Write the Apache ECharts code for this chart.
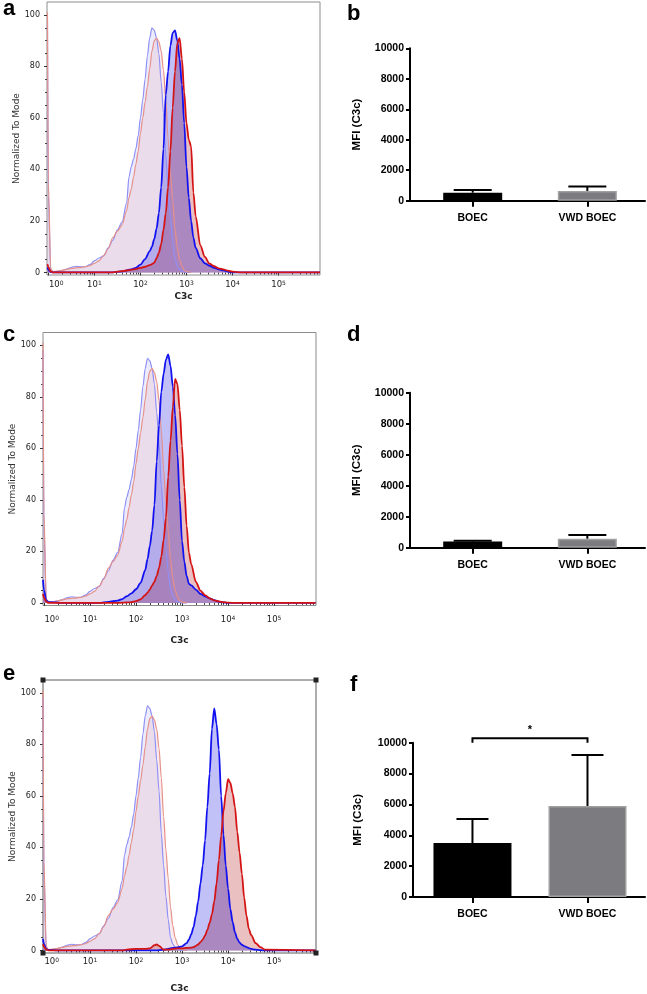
<!DOCTYPE html>
<html><head><meta charset="utf-8">
<script src="https://cdn.jsdelivr.net/npm/echarts@6.0.0/dist/echarts.min.js"></script>
<style>html,body{margin:0;padding:0;background:#fff}#c{width:647px;height:994px}</style>
</head><body><div id="c"></div>
<script>
// ---------- DATA (x = log10 of C3c fluorescence, y = % of mode) ----------
const isoX = [-0.02,0.0,0.05,0.1,0.2,0.3,0.4,0.5,0.6,0.7,0.8,0.9,1.0,1.1,1.2,1.3,1.4,1.5,1.6,1.7,1.75,1.8,1.85,1.9,1.95,2.0,2.05,2.1,2.15,2.2,2.25,2.3,2.35,2.4,2.45,2.5,2.55,2.6,2.65,2.7,2.75,2.8,2.85,2.9,2.95,3.0,3.1];
const isoBlue = [98,30,1,0.2,0.4,0.8,1.3,2,2.4,2.2,2.2,3,4.5,5.6,6.4,9.5,12.5,16.5,19.5,27,37,41,44,48,53,60,67,75,84,91,95,94,91,85,74,62,45.5,33,21,12,5,2.5,1.2,0.5,0.2,0,0];
const isoRed = [101,35,1.5,0.3,0.5,0.8,1.2,1.6,1.8,1.9,2.2,2.6,3.5,4.5,6.5,9.2,13.5,16,18.5,24,29,32.4,37,42,47,54,60,66,72,79,86,90,91,89.5,86,78.5,67,52,39,28,16.8,9.5,5,2.5,0.8,0.3,0];

const aX = [-0.02,0.0,0.05,0.1,0.5,1.0,1.35,1.6,1.8,1.9,2.0,2.1,2.2,2.25,2.3,2.35,2.4,2.45,2.5,2.55,2.6,2.65,2.7,2.75,2.8,2.85,2.9,2.95,3.0,3.05,3.1,3.15,3.2,3.3,3.4,3.5,3.6,3.7,3.8,3.9,4.0,4.2,5.9];
const aBlue = [2,1,0.2,0,0,0,0,0.4,1.2,1.8,3,5.2,8.2,10,13,17,23,33,48,69,78,88,93,94,90,83,73,58,41,29,20,13.5,9.5,5.5,3.5,2.6,1.8,1.2,0.8,0.3,0,0,0];
const aRed = [3.2,2,0.4,0,0,0,0,0.5,1,1.3,1.8,2.2,2.8,3.2,3.8,5.5,7.6,11,16.5,23,33,47,64,78,89,91,83,70,58,51.5,49,31,21.8,10.5,6,3.4,2.4,1.6,1.2,0.7,0.3,0,0];

const cX = [-0.02,0.0,0.05,0.1,0.5,1.0,1.2,1.4,1.6,1.7,1.8,1.9,2.0,2.1,2.2,2.25,2.3,2.35,2.4,2.45,2.5,2.55,2.6,2.65,2.7,2.75,2.8,2.85,2.9,2.95,3.0,3.05,3.1,3.15,3.2,3.3,3.4,3.5,3.6,3.7,3.8,3.9,4.0,4.2,5.9];
const cBlue = [9,5,1,0.3,0,0,0,0.4,0.9,1.5,2.6,3.7,5.3,7.8,12.7,17,22,28,38,55,69,82,89,94.5,96.5,92,84,73,58,40,24,16,10.5,7.4,6.8,5.2,3.5,2.6,1.8,1.1,0.5,0.2,0,0,0];
const cRed = [3.5,2,0.5,0,0,0,0,0,0,0.1,0.2,0.3,0.7,1.4,3,4,5.2,6.8,8.2,10.5,13.5,18,24.5,33,49,63,76,87,85,75,61,45,30,19.5,15,8.2,4.8,3,1.8,1,0.6,0.3,0.1,0,0];

const eX = [-0.02,0.0,0.05,0.1,0.3,0.6,1.0,1.4,1.7,1.8,2.0,2.2,2.3,2.4,2.45,2.5,2.6,2.7,2.8,2.9,3.0,3.1,3.15,3.2,3.25,3.3,3.35,3.4,3.45,3.5,3.55,3.6,3.65,3.7,3.75,3.8,3.85,3.9,3.95,4.0,4.05,4.1,4.15,4.2,4.25,4.3,4.35,4.4,4.45,4.5,4.6,4.7,4.8,5.9];
const eBlue = [4.5,2.5,0.5,0.2,0,0,0,0,0,0,0,0,0,0,0,0.1,0.3,0.6,1.0,1.2,1.6,2.8,4.2,6.3,9,13.5,19,26,33,42.7,55.7,68.7,86,94,88,78,60,45,33,24,16,11,7,4.5,3,2.2,1.7,1.3,0.9,0.6,0.3,0.1,0,0];
const eRed = [2.5,1.5,0.3,0,0,0,0,0,0,0.3,0.6,0.6,0.8,2,2.3,1.8,0.3,0.3,0.6,0.8,0.8,1.0,1.0,1.1,1.3,1.8,2.3,3.2,4.2,5.8,8,10.7,14,19,26,35,44.5,54,61,66.5,65,61,55.7,46,38,29.8,20.5,13.5,8.5,6,2.8,1.3,0.3,0];

const flowYTicks = [0,20,40,60,80,100];
const flowXDecades = [0,1,2,3,4,5];

const groups = ['BOEC','VWD BOEC'];
const bMean = [525,640],  bUpper = [700,930];
const dMean = [400,580],  dUpper = [450,820];
const fMean = [3500,5900], fUpper = [5050,9200];
const barYTicks = [0,2000,4000,6000,8000,10000];

// ---------- LAYOUT / STYLE ----------
const C = {
  isoBlueLine:'#8f8ff5', isoRedLine:'#e5918a',
  isoBlueFill:'rgba(150,150,240,0.18)', isoRedFill:'rgba(225,150,160,0.18)',
  blueLine:'#1212f0', redLine:'#d41414',
  blueFill:'rgba(100,100,235,0.40)', redFill:'rgba(200,90,90,0.38)',
  overlapFill:'rgba(150,120,200,0.5)'
};
const FLOW = [
  {grid:{left:47,top:2,width:273,height:273}, xmin:-0.03, xmax:5.9, xs:aX, blue:aBlue, red:aRed, lblMargin:5, nameGap:17, yNameGap:20, frame:'#8c8c8c', handles:false},
  {grid:{left:43,top:332.5,width:273,height:273}, xmin:-0.02, xmax:5.91, xs:cX, blue:cBlue, red:cRed, lblMargin:10, nameGap:31, yNameGap:18, frame:'#8c8c8c', handles:false},
  {grid:{left:43,top:680,width:273,height:273}, xmin:-0.02, xmax:5.91, xs:eX, blue:eBlue, red:eRed, lblMargin:4, nameGap:31, yNameGap:20, frame:'#5a5a5a', handles:true}
];
const BARS = [
  {grid:{left:410,top:48.3,width:235,height:152.4}, xmin:-0.547, xmax:1.503, mean:bMean, upper:bUpper, barW:59, capW:38, nameGap:47, bracket:false},
  {grid:{left:410,top:392.7,width:235,height:155}, xmin:-0.547, xmax:1.503, mean:dMean, upper:dUpper, barW:59, capW:38, nameGap:47, bracket:false},
  {grid:{left:413,top:742.7,width:232,height:154.3}, xmin:-0.517, xmax:1.5, mean:fMean, upper:fUpper, barW:78, capW:32, nameGap:49, bracket:true}
];

const grids=[], xAxes=[], yAxes=[], series=[], graphics=[];
const minorX = [];
for (let d=0; d<=5; d++) for (let k=2; k<=9; k++) { const v=d+Math.log10(k); if (v<5.9) minorX.push(v); }
const minorY = []; for (let v=5; v<=100; v+=5) if (v%20) minorY.push(v);
const flowFont = 'DejaVu Sans';

FLOW.forEach((p, i) => {
  const gi = grids.length;
  grids.push(Object.assign({show:true, borderColor:p.frame, borderWidth:1, backgroundColor:'transparent'}, p.grid));
  const xi = xAxes.length;
  xAxes.push({gridIndex:gi, type:'value', position:'bottom', min:p.xmin, max:p.xmax,
    axisLine:{show:false}, splitLine:{show:false},
    axisTick:{show:true, customValues:flowXDecades, length:3, lineStyle:{color:'#333', width:1}},
    axisLabel:{customValues:[0.17,1,2,3,4,5], margin:p.lblMargin,
      formatter:v=>'{m|10}{s|'+Math.round(v)+'}',
      rich:{m:{fontFamily:flowFont, fontSize:8.5, color:'#222', verticalAlign:'bottom'},
            s:{fontFamily:flowFont, fontSize:6, color:'#222', verticalAlign:'top'}}},
    name:'C3c', nameLocation:'middle', nameGap:p.nameGap,
    nameTextStyle:{fontFamily:flowFont, fontWeight:'bold', fontSize:9, color:'#222'}});
  xAxes.push({gridIndex:gi, type:'value', position:'bottom', min:p.xmin, max:p.xmax,
    axisLine:{show:false}, splitLine:{show:false}, axisLabel:{show:false},
    axisTick:{show:true, customValues:minorX, length:2, lineStyle:{color:'#444', width:1}}});
  const yi = yAxes.length;
  yAxes.push({gridIndex:gi, type:'value', position:'left', min:-1, max:105,
    axisLine:{show:false, onZero:false}, splitLine:{show:false},
    axisTick:{show:true, customValues:flowYTicks, length:3, lineStyle:{color:'#333'}},
    axisLabel:{customValues:flowYTicks, margin:7, fontFamily:flowFont, fontSize:8, color:'#222'},
    name:'Normalized To Mode', nameLocation:'middle', nameGap:p.yNameGap, nameRotate:90,
    nameTextStyle:{fontFamily:flowFont, fontSize:9, color:'#333'}});
  yAxes.push({gridIndex:gi, type:'value', position:'left', min:-1, max:105,
    axisLine:{show:false, onZero:false}, splitLine:{show:false}, axisLabel:{show:false},
    axisTick:{show:true, customValues:minorY, length:2, lineStyle:{color:'#444'}}});

  const mk = (xs, ys, o) => ({type:'line', xAxisIndex:xi, yAxisIndex:yi, silent:true,
    data:xs.map((x,k)=>[x, ys[k]]), symbol:'none', smooth:0.3, smoothMonotone:'x', z:o.z,
    lineStyle:o.line ? {color:o.line, width:o.w} : {opacity:0, width:0},
    areaStyle:o.fill ? {color:o.fill, opacity:1} : undefined});
  const overlap = p.blue.map((v,k)=>Math.min(v, p.red[k]));
  series.push(mk(isoX, isoBlue, {fill:C.isoBlueFill, z:2}));
  series.push(mk(isoX, isoRed, {fill:C.isoRedFill, z:2}));
  series.push(mk(p.xs, p.blue, {fill:C.blueFill, z:2}));
  series.push(mk(p.xs, p.red, {fill:C.redFill, z:2}));
  series.push(mk(p.xs, overlap, {fill:C.overlapFill, z:2}));
  series.push(mk(isoX, isoBlue, {line:C.isoBlueLine, w:1.2, z:3}));
  series.push(mk(isoX, isoRed, {line:C.isoRedLine, w:1.2, z:3}));
  series.push(mk(p.xs, p.blue, {line:C.blueLine, w:1.8, z:4}));
  series.push(mk(p.xs, p.red, {line:C.redLine, w:1.8, z:4}));

  if (p.handles) {
    const g = p.grid, s = 5;
    [[g.left, g.top],[g.left+g.width, g.top],[g.left, g.top+g.height],[g.left+g.width, g.top+g.height]].forEach(([x,y]) =>
      graphics.push({type:'rect', shape:{x:x-s/2, y:y-s/2, width:s, height:s}, style:{fill:'#222'}, z:100}));
  }
});

const barFont = 'Liberation Sans';
BARS.forEach((p) => {
  const gi = grids.length;
  grids.push(Object.assign({show:false}, p.grid));
  const xi = xAxes.length;
  xAxes.push({gridIndex:gi, type:'value', min:p.xmin, max:p.xmax, position:'bottom',
    axisLine:{show:true, onZero:false, lineStyle:{color:'#000', width:2}}, splitLine:{show:false},
    axisTick:{show:true, customValues:[0,1], length:6, lineStyle:{color:'#000', width:2}},
    axisLabel:{customValues:[0,1], formatter:v=>groups[Math.round(v)], margin:12,
      fontFamily:barFont, fontWeight:'bold', fontSize:10.5, color:'#000'}});
  const yi = yAxes.length;
  yAxes.push({gridIndex:gi, type:'value', min:0, max:10000, interval:2000, position:'left',
    axisLine:{show:true, onZero:false, lineStyle:{color:'#000', width:2}}, splitLine:{show:false},
    axisTick:{show:true, length:4, lineStyle:{color:'#000', width:2}},
    axisLabel:{margin:6, formatter:v=>String(v), fontFamily:barFont, fontWeight:'bold', fontSize:10.5, color:'#000'},
    name:'MFI (C3c)', nameLocation:'middle', nameGap:p.nameGap, nameRotate:90,
    nameTextStyle:{fontFamily:barFont, fontWeight:'bold', fontSize:11.5, color:'#000'}});
  series.push({type:'bar', xAxisIndex:xi, yAxisIndex:yi, barWidth:p.barW, silent:true, z:2,
    data:groups.map((g,k)=>({value:[k, p.mean[k]],
      itemStyle:k===0 ? {color:'#000'} : {color:'#7c7c80', borderColor:'#a0a0a0', borderWidth:1.5}}))});
  series.push({type:'custom', xAxisIndex:xi, yAxisIndex:yi, silent:true, z:3,
    data:groups.map((g,k)=>[k, p.mean[k], p.upper[k]]),
    renderItem:(params, api) => {
      const a = api.coord([api.value(0), api.value(1)]);
      const b = api.coord([api.value(0), api.value(2)]);
      const h = p.capW/2;
      return {type:'group', children:[
        {type:'line', shape:{x1:a[0], y1:a[1], x2:b[0], y2:b[1]}, style:{stroke:'#000', lineWidth:2}},
        {type:'line', shape:{x1:b[0]-h, y1:b[1], x2:b[0]+h, y2:b[1]}, style:{stroke:'#000', lineWidth:2}}]};
    }});
  if (p.bracket) {
    series.push({type:'custom', xAxisIndex:xi, yAxisIndex:yi, silent:true, z:3, clip:false,
      data:[[0, 1, 10000]],
      renderItem:(params, api) => {
        const l = api.coord([api.value(0), api.value(2)]);
        const r = api.coord([api.value(1), api.value(2)]);
        const y = l[1] - 4.5;
        return {type:'group', children:[
          {type:'polyline', shape:{points:[[l[0], l[1]], [l[0], y], [r[0], y], [r[0], r[1]]]},
           style:{stroke:'#000', lineWidth:2, fill:null}},
          {type:'text', x:(l[0]+r[0])/2, y:y-3, style:{text:'*', font:'bold 11px "Liberation Sans"',
           fill:'#000', align:'center', verticalAlign:'bottom'}}]};
      }});
  }
});

// panel letters
[['a',3,-2],['b',347,3],['c',3,324],['d',347,324],['e',3,663],['f',350,674]].forEach(([t,x,y]) =>
  graphics.push({type:'text', left:x, top:y, z:100,
    style:{text:t, font:'bold 22px "Liberation Sans"', fill:'#000'}}));

const chart = echarts.init(document.getElementById('c'), null, {renderer:'canvas'});
chart.setOption({animation:false, backgroundColor:'#fff', grid:grids, xAxis:xAxes, yAxis:yAxes, series:series, graphic:graphics});
</script></body></html>
